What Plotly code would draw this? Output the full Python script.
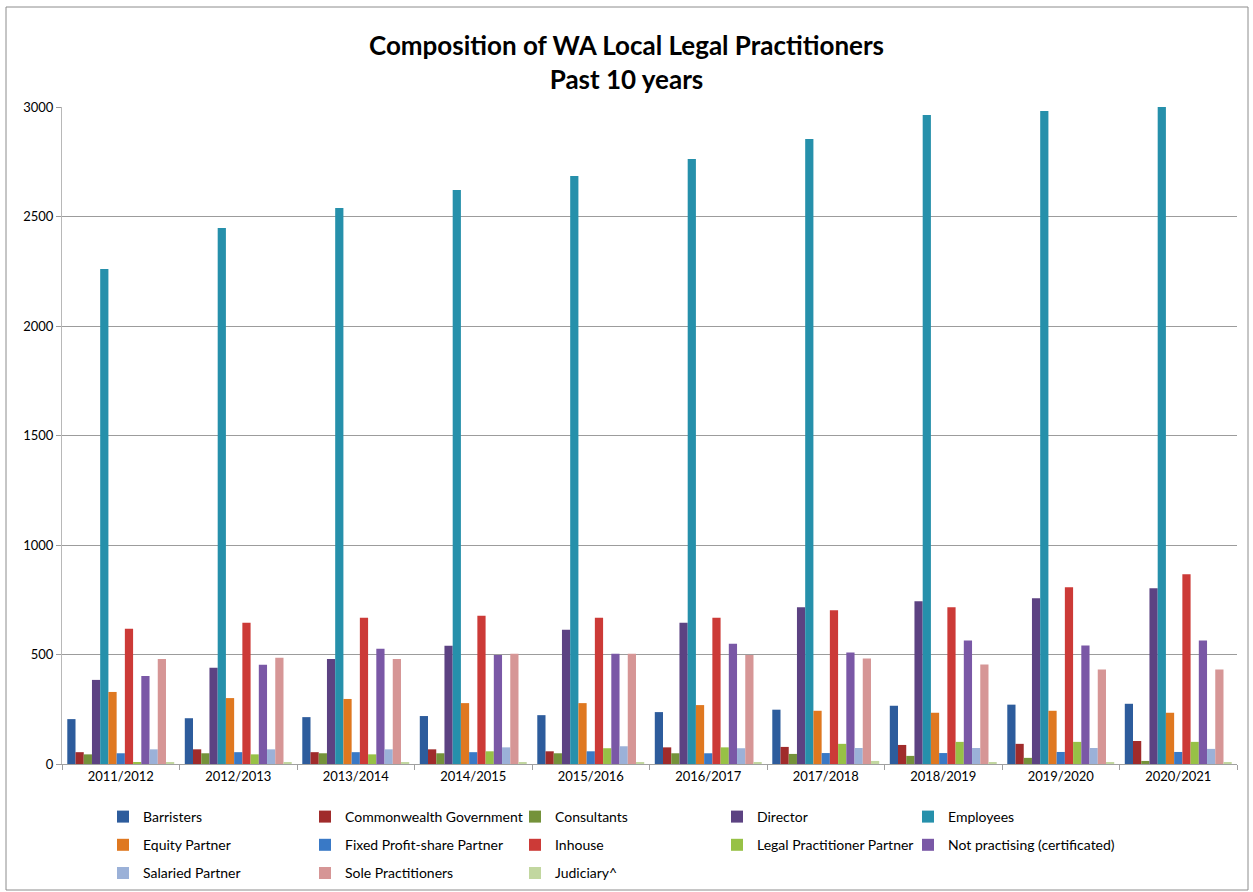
import plotly.graph_objects as go

# Financial years shown on the category axis
years = ["2011/2012", "2012/2013", "2013/2014", "2014/2015", "2015/2016",
         "2016/2017", "2017/2018", "2018/2019", "2019/2020", "2020/2021"]

# Number of practitioners in each category, per year
barristers = [205, 209, 214, 219, 223, 237, 248, 266, 271, 275]
commonwealth_government = [54, 67, 54, 67, 58, 76, 78, 87, 92, 105]
consultants = [44, 49, 49, 49, 49, 49, 46, 37, 28, 14]
director = [384, 439, 480, 540, 613, 645, 716, 743, 757, 803]
employees = [2260, 2447, 2539, 2621, 2685, 2762, 2854, 2963, 2982, 3004]
equity_partner = [329, 301, 297, 278, 278, 269, 243, 234, 243, 234]
fixed_profit_share_partner = [49, 54, 54, 54, 58, 49, 50, 50, 55, 55]
inhouse = [618, 645, 668, 677, 668, 668, 702, 716, 807, 867]
legal_practitioner_partner = [8, 44, 44, 58, 72, 76, 92, 101, 101, 101]
not_practising = [402, 453, 526, 498, 503, 549, 509, 564, 541, 564]
salaried_partner = [67, 67, 67, 76, 81, 72, 73, 73, 73, 69]
sole_practitioners = [480, 485, 480, 503, 503, 498, 482, 454, 431, 431]
judiciary = [8, 8, 8, 8, 8, 8, 14, 9, 9, 9]

# (name, values, colour, legend column)
series = [
    ("Barristers", barristers, "#2D5C9C", "legend"),
    ("Commonwealth Government", commonwealth_government, "#A02B2B", "legend2"),
    ("Consultants", consultants, "#74923A", "legend3"),
    ("Director", director, "#5C4282", "legend4"),
    ("Employees", employees, "#2690AB", "legend5"),
    ("Equity Partner", equity_partner, "#DF7820", "legend"),
    ("Fixed Profit-share Partner", fixed_profit_share_partner, "#3979C6", "legend2"),
    ("Inhouse", inhouse, "#CC3A37", "legend3"),
    ("Legal Practitioner Partner", legal_practitioner_partner, "#97C146", "legend4"),
    ("Not practising (certificated)", not_practising, "#7A58A6", "legend5"),
    ("Salaried Partner", salaried_partner, "#9BB1D8", "legend"),
    ("Sole Practitioners", sole_practitioners, "#D69696", "legend2"),
    ("Judiciary^", judiciary, "#C2D7A0", "legend3"),
]

FONT = "Lato, 'Open Sans', sans-serif"

fig = go.Figure()
for name, values, color, leg in series:
    fig.add_trace(go.Bar(
        name=name, x=years, y=values, legend=leg, legendgroup=name,
        marker=dict(color=color, line=dict(width=0)),
    ))

L, R, T, B = 62, 16, 107, 128
W, H = 1253, 892
pw, ph = W - L - R, H - T - B


def px_x(p):
    return (p - L) / pw


def px_y(p):
    return (H - B - p) / ph


def legend_column(text_left):
    return dict(
        orientation="v", xanchor="left", yanchor="top",
        x=px_x(text_left - 40), y=px_y(801),
        tracegroupgap=7, traceorder="grouped",
        font=dict(family=FONT, size=14, color="#000"),
        bgcolor="rgba(0,0,0,0)", itemclick=False, itemdoubleclick=False,
    )


fig.update_layout(
    width=W, height=H,
    margin=dict(l=L, r=R, t=T, b=B, autoexpand=False),
    paper_bgcolor="white", plot_bgcolor="white",
    font=dict(family=FONT, size=13, color="#000"),
    title=dict(
        text="<b>Composition of WA Local Legal Practitioners<br>Past 10 years</b>",
        x=0.5, xanchor="center", y=1 - 55 / H, yanchor="top",
        font=dict(family=FONT, size=26, color="#000"),
    ),
    barmode="group", bargap=0.09, bargroupgap=0,
    legend=legend_column(143),
    legend2=legend_column(345),
    legend3=legend_column(555),
    legend4=legend_column(757),
    legend5=legend_column(948),
    xaxis=dict(
        showline=True, linecolor="#A0A0A0", linewidth=1,
        ticks="outside", tickson="boundaries", ticklen=5, tickcolor="#A0A0A0",
        tickfont=dict(family=FONT, size=13, color="#000"),
        showgrid=False,
    ),
    yaxis=dict(
        range=[0, 3000], dtick=500,
        showline=True, linecolor="#B8B8B8", linewidth=1,
        ticks="outside", ticklen=5, tickcolor="#9C9C9C",
        showgrid=True, gridcolor="#9C9C9C", gridwidth=1,
        zeroline=False,
        tickfont=dict(family=FONT, size=13, color="#000"),
    ),
    shapes=[dict(
        type="rect", xref="paper", yref="paper",
        x0=px_x(6), x1=px_x(1248), y0=px_y(890), y1=px_y(7),
        line=dict(color="#8C8C8C", width=1), fillcolor="rgba(0,0,0,0)",
        layer="below",
    )],
)

fig.write_html("out.html")
